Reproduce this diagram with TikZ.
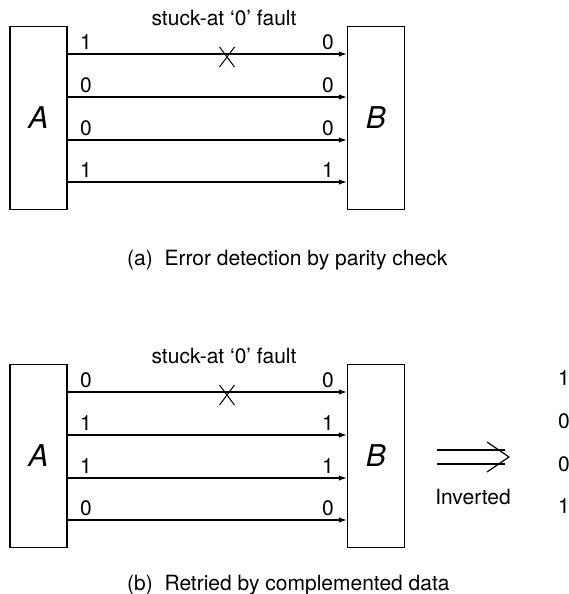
\documentclass[tikz,border=0pt]{standalone}
\usepackage{fontspec}
\setmainfont{TeX Gyre Heros}
\usetikzlibrary{arrows.meta, positioning, shapes.misc}

\tikzset{
    unit/.style={draw, rectangle, line width=1.3pt, minimum width=57pt, minimum height=183pt, inner sep=0pt, font=\fontsize{30}{32}\selectfont\itshape},
    wire/.style={line width=1.2pt, -{Latex[length=8pt, width=5.5pt]}},
    bit/.style={font=\fontsize{21}{25}\selectfont, inner sep=0pt},
    fault/.style={draw, cross out, line width=1pt, minimum width=14pt, minimum height=19pt, inner sep=0pt},
}

\begin{document}
\begin{tikzpicture}[x=1pt, y=-1pt]
    \useasboundingbox (0,0) rectangle (569,594);

    % (a) parity check
    \node [unit] (A1) at (38.5,118) {A};
    \node [unit] (B1) at (376,118) {B};
    \node [bit] (t1) at (224,18) {stuck-at ‘0’ fault};
    \foreach \y/\l/\r in {54/1/0, 97/0/0, 140/0/0, 182/1/1} {
        \draw [wire] (A1.east |- 0,\y) -- (B1.west |- 0,\y);
        \node [bit] (la\y) at (86,\y-12) {\l};
        \node [bit] (ra\y) at (328,\y-12) {\r};
    }
    \node [fault] (x1) at (227,57) {};
    \node [bit, anchor=west] (capa) at (127,260) {(a)\ \ Error detection by parity check};

    % (b) retry with complemented data
    \begin{scope}[yshift=-338pt]
        \node [unit] (A2) at (38.5,118) {A};
        \node [unit] (B2) at (376,118) {B};
        \node [bit] (t2) at (224,18) {stuck-at ‘0’ fault};
        \foreach \y/\l/\r/\o in {54/0/0/1, 97/1/1/0, 140/1/1/0, 182/0/0/1} {
            \draw [wire] (A2.east |- 0,\y) -- (B2.west |- 0,\y);
            \node [bit] (lb\y) at (86,\y-12) {\l};
            \node [bit] (rb\y) at (328,\y-12) {\r};
            \node [bit] (ob\y) at (564,\y-14) {\o};
        }
        \node [fault] (x2) at (227,57) {};

        % inversion arrow
        \draw [line width=1.2pt] (437,112) -- (505,112) (437,126) -- (505,126);
        \draw [line width=1.2pt] (487,104) -- (509,119) -- (487,134);
        \node [bit] (inv) at (473,159) {Inverted};
    \end{scope}
    \node [bit, anchor=west] (capb) at (127,585) {(b)\ \ Retried by complemented data};
\end{tikzpicture}
\end{document}
